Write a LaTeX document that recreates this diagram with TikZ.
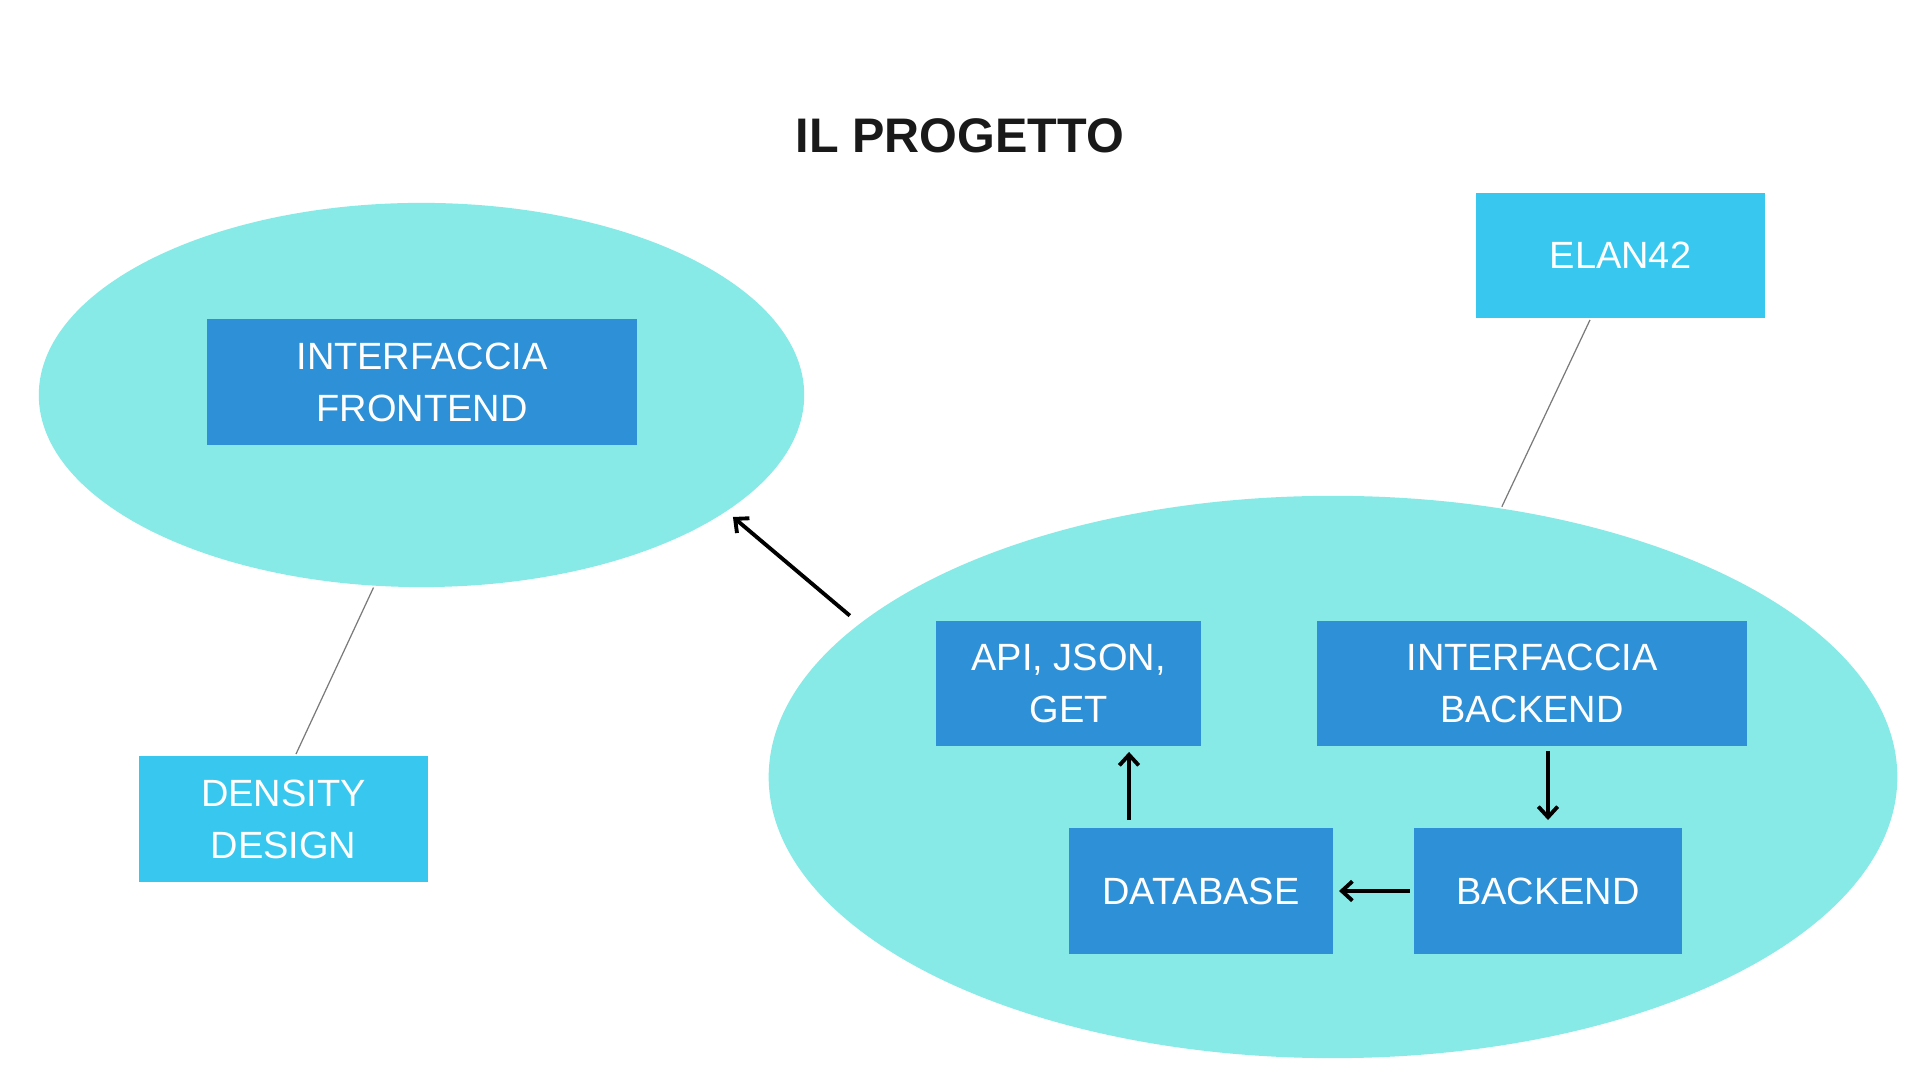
\documentclass[tikz,border=0pt]{standalone}
\usepackage{fontspec}
\setmainfont{Liberation Sans}
\usetikzlibrary{shapes.geometric,arrows.meta}
\definecolor{blobcol}{HTML}{88EAE7}
\definecolor{darkbox}{HTML}{2E90D6}
\definecolor{lightbox}{HTML}{38C8EF}
\definecolor{linegray}{HTML}{7A7A7A}
\tikzset{
  blob/.style={ellipse, fill=blobcol, inner sep=0pt},
  dbox/.style={fill=darkbox, text=white, align=center, inner sep=0pt,
    font=\fontsize{10.8}{14.8}\selectfont},
  lbox/.style={dbox, fill=lightbox},
  thin line/.style={draw=linegray, line width=0.35pt}
}
\begin{document}
\begin{tikzpicture}[x=0.01cm, y=-0.01cm, >={Straight Barb[length=3pt,width=5.5pt]}, line width=1.1pt]
\useasboundingbox (0,0) rectangle (1920,1080);
\node[blob, minimum width=7.65cm, minimum height=3.84cm] (left) at (421.5,395) {};
\node[blob, minimum width=11.28cm, minimum height=5.62cm] (right) at (1333,777) {};
\node[font=\fontsize{13.8}{16}\selectfont\bfseries, text=black!90] (title) at (960,136) {IL PROGETTO};
\node[dbox, minimum width=4.3cm, minimum height=1.25cm] (fe) at (422,382) {INTERFACCIA\\FRONTEND};
\node[lbox, minimum width=2.89cm, minimum height=1.26cm] (dd) at (283.5,819) {DENSITY\\DESIGN};
\node[lbox, minimum width=2.89cm, minimum height=1.25cm] (elan) at (1620.5,255.5) {ELAN42};
\node[dbox, minimum width=2.65cm, minimum height=1.25cm] (api) at (1068.5,683.5) {API, JSON,\\GET};
\node[dbox, minimum width=4.29cm, minimum height=1.25cm] (ib) at (1532,683.5) {INTERFACCIA\\BACKEND};
\node[dbox, minimum width=2.64cm, minimum height=1.26cm] (db) at (1201,891) {DATABASE};
\node[dbox, minimum width=2.68cm, minimum height=1.26cm] (be) at (1548,891) {BACKEND};
\draw[thin line] ([xshift=-0.305cm]elan.south) -- (right.58.8);
\draw[thin line] ([xshift=0.125cm]dd.north) -- (left.256.7);
\draw[->, shorten <=0.11cm, shorten >=0.07cm] (right.162.4) -- (left.-21.1);
\coordinate (dbtop) at ([xshift=0.62cm]db.north west);
\draw[->, shorten <=0.06cm, shorten >=0.04cm] (dbtop) -- (dbtop |- api.south);
\draw[->, shorten <=0.03cm, shorten >=0.06cm] (ib.south -| be.north) -- (be.north);
\draw[->, shorten <=0.02cm, shorten >=0.04cm] (be.west) -- (db.east);
\end{tikzpicture}
\end{document}
